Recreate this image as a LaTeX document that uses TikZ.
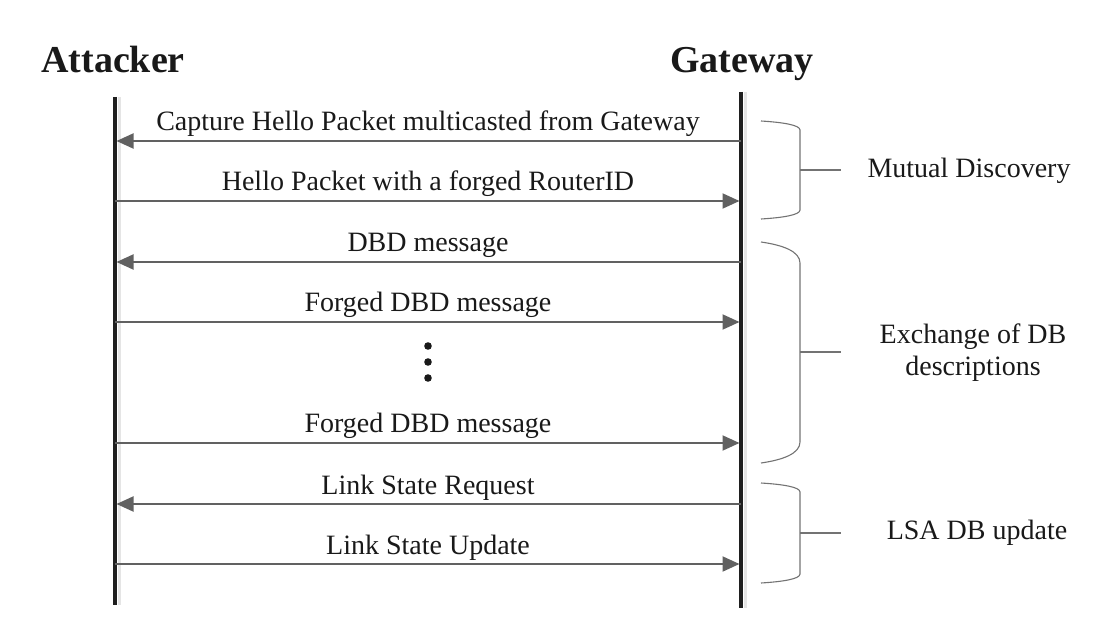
\documentclass[tikz,border=0pt]{standalone}
\usepackage{fontspec}
\setmainfont{Liberation Serif}
\usetikzlibrary{arrows.meta}

\begin{document}
\begin{tikzpicture}[x=1pt,y=-1pt,
  life/.style={line width=3.5pt,black!88},
  lifeshadow/.style={line width=3pt,black!10},
  msg/.style={line width=2pt,black!62,shorten >=1.5pt,-{Triangle[length=17pt,width=15pt]}},
  lbl/.style={above,inner sep=3pt,text=black!90,font=\fontsize{28}{32}\selectfont},
  actor/.style={anchor=base,text=black!90,font=\fontsize{38}{40}\selectfont\bfseries},
  brace/.style={line width=1.1pt,black!55},
  phase/.style={align=center,text=black!90,font=\fontsize{28}{32}\selectfont}]
\useasboundingbox (0,0) rectangle (1110,628);
\node[actor] (attacker) at (113,73) {Attacker};
\node[actor] (gateway) at (742,73) {Gateway};
\coordinate (atop) at (115,97); \coordinate (abot) at (115,605);
\coordinate (gtop) at (741,92); \coordinate (gbot) at (741,608);
\draw[lifeshadow] ([xshift=4pt]atop) -- ([xshift=4pt]abot);
\draw[lifeshadow] ([xshift=4pt]gtop) -- ([xshift=4pt]gbot);
\draw[life] (atop) -- (abot);
\draw[life] (gtop) -- (gbot);
\foreach \y [count=\i] in {141,201,262,322,443,504,564} {
  \coordinate (a\i) at (115,\y);
  \coordinate (g\i) at (741,\y);
}
\draw[msg] (g1) -- node[lbl] {Capture Hello Packet multicasted from Gateway} (a1);
\draw[msg] (a2) -- node[lbl] {Hello Packet with a forged RouterID} (g2);
\draw[msg] (g3) -- node[lbl] {DBD message} (a3);
\draw[msg] (a4) -- node[lbl] {Forged DBD message} (g4);
\draw[msg] (a5) -- node[lbl] {Forged DBD message} (g5);
\draw[msg] (g6) -- node[lbl] {Link State Request} (a6);
\draw[msg] (a7) -- node[lbl] {Link State Update} (g7);
\node[inner sep=0pt,minimum size=0pt] (dots) at (428,362) {};
\foreach \dy in {-16,0,16}
  \fill[black!90] ([yshift=-\dy pt]dots) circle (3.8pt);
\foreach \t/\d/\m/\b/\n in {121/9/170/219/disc,242/21/352/463/exch,483/9/533/583/lsa} {
  \draw[brace] (761,\t) .. controls (783,\t+0.15*\d) and (800,\t+0.45*\d) .. (800,\t+\d)
    -- (800,\b-\d) .. controls (800,\b-0.45*\d) and (783,\b-0.15*\d) .. (761,\b);
  \coordinate (\n) at (800,\m);
  \coordinate (\n tip) at (841,\m);
  \draw[brace] (\n) -- (\n tip);
}
\node[phase] (discovery) at (969,171) {Mutual Discovery};
\node[phase] (exchange) at (973,353) {Exchange of DB\\descriptions};
\node[phase] (lsaupd) at (977,533) {LSA DB update};
\end{tikzpicture}
\end{document}
